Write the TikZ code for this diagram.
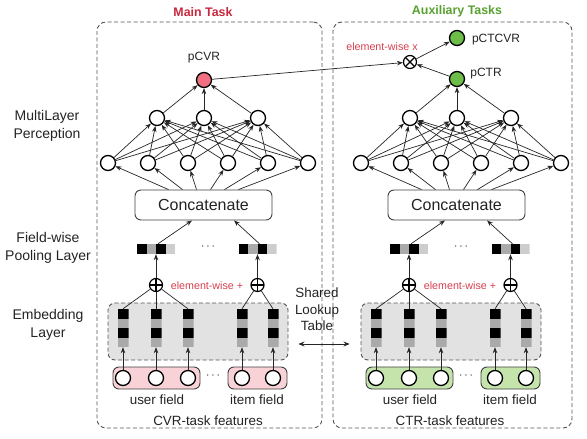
\documentclass[tikz,border=0pt]{standalone}
\usepackage{fontspec}
\setmainfont{Liberation Sans}
\usetikzlibrary{arrows.meta}
\definecolor{titlered}{RGB}{200,40,60}
\definecolor{titlegreen}{RGB}{88,160,48}
\definecolor{opred}{RGB}{214,62,78}
\definecolor{nodepink}{RGB}{240,112,130}
\definecolor{nodegreen}{RGB}{108,190,72}
\definecolor{fieldpink}{RGB}{249,210,215}
\definecolor{fieldgreen}{RGB}{196,228,172}
\definecolor{embgray}{RGB}{226,226,226}
\definecolor{boxgray}{RGB}{85,85,85}
\definecolor{txt}{RGB}{35,35,35}
\definecolor{midgray}{RGB}{170,170,170}
\definecolor{lightgraytwo}{RGB}{205,205,205}
\begin{document}
\begin{tikzpicture}[x=1pt,y=-1pt,
  every node/.style={text=txt},
  neuron/.style={circle,draw=black,line width=1.3pt,fill=white,minimum size=15pt,inner sep=0pt},
  conn/.style={draw=black!85,line width=0.7pt,-{Stealth[length=6pt,width=4.5pt]}},
  bidir/.style={draw=black!85,line width=0.8pt,{Stealth[length=6pt,width=5pt]}-{Stealth[length=6pt,width=5pt]}},
  plainline/.style={draw=black!85,line width=0.7pt},
  taskbox/.style={draw=boxgray,dash pattern=on 4pt off 2.5pt,line width=0.9pt,rounded corners=9pt,inner sep=0pt},
  embbox/.style={draw=boxgray,fill=embgray,dash pattern=on 4pt off 2.5pt,line width=0.9pt,rounded corners=7pt,inner sep=0pt,minimum width=180pt,minimum height=57pt},
  catbox/.style={draw=black!75,line width=0.9pt,rounded corners=6pt,fill=white,minimum width=137pt,minimum height=30pt,inner sep=0pt,font=\fontsize{16}{19}\selectfont},
  fieldbox/.style={draw=black!75,line width=0.9pt,rounded corners=6pt,minimum height=22pt,inner sep=0pt},
  oplus/.style={circle,draw=black,line width=1.2pt,fill=white,minimum size=13pt,inner sep=0pt,
    path picture={\draw[line width=1.2pt] (path picture bounding box.north) -- (path picture bounding box.south)
      (path picture bounding box.west) -- (path picture bounding box.east);}},
  otimes/.style={circle,draw=black,line width=1.2pt,fill=white,minimum size=13pt,inner sep=0pt,
    path picture={\draw[line width=1.2pt] (path picture bounding box.north west) -- (path picture bounding box.south east)
      (path picture bounding box.south west) -- (path picture bounding box.north east);}},
  pool/.style={minimum width=38pt,minimum height=10pt,inner sep=0pt,
    path picture={
      \fill[black] (path picture bounding box.north west) rectangle ++(9.5pt,-10pt);
      \fill[midgray] ([xshift=9.5pt]path picture bounding box.north west) rectangle ++(9.5pt,-10pt);
      \fill[black] ([xshift=19pt]path picture bounding box.north west) rectangle ++(9.5pt,-10pt);
      \fill[lightgraytwo] ([xshift=28.5pt]path picture bounding box.north west) rectangle ++(9.5pt,-10pt);}},
  embcol/.style={minimum width=11pt,minimum height=38pt,inner sep=0pt,
    path picture={
      \fill[black] (path picture bounding box.north west) rectangle ++(11pt,-10pt);
      \fill[midgray] ([yshift=-10pt]path picture bounding box.north west) rectangle ++(11pt,-9pt);
      \fill[black] ([yshift=-19pt]path picture bounding box.north west) rectangle ++(11pt,-10pt);
      \fill[midgray] ([yshift=-29pt]path picture bounding box.north west) rectangle ++(11pt,-9pt);}},
  sidelabel/.style={align=center,font=\fontsize{14}{18}\selectfont},
  small/.style={font=\fontsize{13.4}{16}\selectfont},
  outlabel/.style={font=\fontsize{12}{14}\selectfont},
  oplabel/.style={text=opred,font=\fontsize{10.7}{13}\selectfont},
  title/.style={font=\fontsize{12.4}{15}\selectfont\bfseries},
  dots/.style={font=\fontsize{12}{14}\selectfont}
]
\useasboundingbox (0,0) rectangle (587,439);

% task boxes
\node[taskbox,minimum width=225pt,minimum height=406pt] (taskL) at (209.5,225) {};
\node[taskbox,minimum width=239pt,minimum height=406pt] (taskR) at (452.5,225) {};
\node[title,text=titlered] (titleL) at (203,12) {Main Task};
\node[title,text=titlegreen] (titleR) at (457,11) {Auxiliary Tasks};

% side labels
\node[sidelabel] (lblmlp) at (47,126) {MultiLayer\\Perception};
\node[sidelabel] (lblpool) at (48,248) {Field-wise\\Pooling Layer};
\node[sidelabel] (lblemb) at (48,325) {Embedding\\Layer};

\foreach \t/\dx/\fc in {L/0/fieldpink, R/253/fieldgreen}{
\begin{scope}[shift={(\dx,0)}]
  % embedding
  \node[embbox] (emb-\t) at (198,331.5) {};
  \foreach \i/\x in {1/123,2/156,3/188,4/242,5/273}
    \node[embcol] (e\i-\t) at (\x,328) {};
  % fields
  \node[fieldbox,fill=\fc,minimum width=87pt] (uf-\t) at (156.5,378) {};
  \node[fieldbox,fill=\fc,minimum width=59pt] (if-\t) at (257.5,378) {};
  \foreach \i/\x in {1/123,2/156,3/188,4/242,5/273}{
    \node[neuron] (x\i-\t) at (\x,378) {};
    \draw[conn] (x\i-\t) -- (e\i-\t);
  }
  \node[dots] (fdots-\t) at (213,376) {$\cdots$};
  \node[small] (ufl-\t) at (157,400) {user field};
  \node[small] (ifl-\t) at (257,400) {item field};
  % element-wise sum
  \node[oplus] (plus1-\t) at (156,285) {};
  \node[oplus] (plus2-\t) at (257.5,285) {};
  \node[oplabel] (ewp-\t) at (207,286) {element-wise +};
  \foreach \i in {1,2,3} \draw[plainline] (plus1-\t) -- (e\i-\t.north);
  \foreach \i in {4,5} \draw[plainline] (plus2-\t) -- (e\i-\t.north);
  % pooling
  \node[pool] (pool1-\t) at (156,249) {};
  \node[pool] (pool2-\t) at (257.5,249) {};
  \node[dots] (pdots-\t) at (208,247) {$\cdots$};
  \draw[conn] (plus1-\t) -- (pool1-\t);
  \draw[conn] (plus2-\t) -- (pool2-\t);
  % concatenate
  \node[catbox] (cat-\t) at (203.5,205) {Concatenate};
  \draw[conn] ([xshift=2pt]pool1-\t.north) -- ([xshift=-11.5pt]cat-\t.south);
  \draw[conn] ([xshift=2pt]pool2-\t.north) -- ([xshift=30.5pt]cat-\t.south);
  % MLP
  \foreach \i/\x in {1/108,2/148,3/188,4/228,5/268,6/308}
    \node[neuron] (b\i-\t) at (\x,163) {};
  \foreach \i/\x in {1/157,2/204,3/258}
    \node[neuron] (a\i-\t) at (\x,118) {};
  \foreach \i/\s in {1/-35,2/-21,3/-7,4/7,5/21,6/35}
    \draw[conn] ([xshift=\s pt]cat-\t.north) -- (b\i-\t);
  \foreach \i in {1,...,6}
    \foreach \j in {1,2,3}
      \draw[conn] (b\i-\t) -- (a\j-\t);
\end{scope}
}

% feature labels
\node[small] (featL) at (208,421) {CVR-task features};
\node[small] (featR) at (450,421) {CTR-task features};

% shared lookup table
\node[small,align=center,font=\fontsize{13.4}{16.5}\selectfont] (shared) at (317,309.5) {Shared\\Lookup\\Table};
\draw[bidir] ([xshift=10pt,yshift=-12.5pt]emb-L.east) -- ([xshift=-11pt,yshift=-12.5pt]emb-R.west);

% outputs
\node[neuron,fill=nodepink] (pcvr) at (204,80) {};
\node[outlabel] (pcvrl) at (204,58) {pCVR};
\node[neuron,fill=nodegreen] (pctr) at (457,79) {};
\node[outlabel] (pctrl) at (486,74) {pCTR};
\node[neuron,fill=nodegreen] (pctcvr) at (457,38) {};
\node[outlabel] (pctcvrl) at (496,40) {pCTCVR};
\node[otimes] (mul) at (410,62) {};
\node[oplabel] (ewx) at (382,47) {element-wise x};
\foreach \j in {1,2,3} {
  \draw[conn] (a\j-L) -- (pcvr);
  \draw[conn] (a\j-R) -- (pctr);
}
\draw[conn] (pcvr) -- (mul);
\draw[conn] (pctr) -- (mul);
\draw[conn] (mul) -- (pctcvr);
\end{tikzpicture}
\end{document}
